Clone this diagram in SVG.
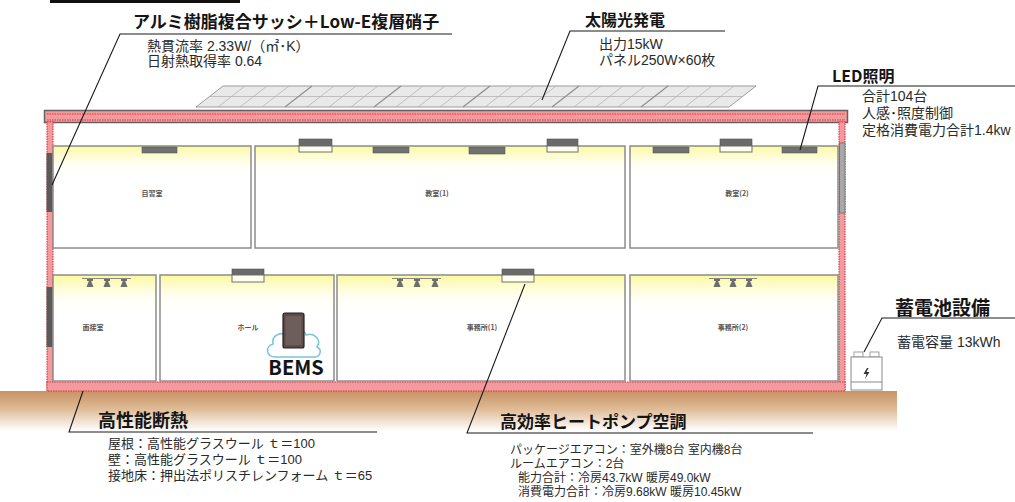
<svg xmlns="http://www.w3.org/2000/svg" width="1015" height="502" viewBox="0 0 1015 502">
  <style>
    text { font-family: "Noto Sans CJK JP", "Noto Sans", sans-serif; }
    .ttl { font-weight: bold; fill: #151515; }
    .body { font-family: "Liberation Sans", "Noto Sans CJK JP", sans-serif; font-size: 14px; fill: #2a2a2a; }
    .sm { font-size: 12px; }
    .md { font-size: 13px; }
    .rm { font-size: 7px; font-weight: bold; fill: #555; }
    .room { fill: none; stroke: #8c8c8c; stroke-width: 1.5; }
    .ins { fill: #f39a9d; stroke: #dc3440; stroke-width: 1.1; stroke-dasharray: 1.5 1; }
    .lamp { fill: #707070; stroke: #5c5c5c; stroke-width: 0.6; }
    .ac-top { fill: #6a6a6a; stroke: #555; stroke-width: 0.6; }
    .ac-bot { fill: #fffef0; stroke: #707070; stroke-width: 1; }
    .dl { fill: #6e6e6e; }
    .lead { fill: none; stroke: #1a1a1a; stroke-width: 1.1; }
    .pv { fill: #e9e9e9; stroke: #9c9c9c; stroke-width: 1; }
    .pvl { stroke: #b4b4b4; stroke-width: 0.8; fill: none; }
  </style>
  <defs>
    <linearGradient id="glow" x1="0" y1="0" x2="0" y2="1">
      <stop offset="0" stop-color="#fbf99a"/>
      <stop offset="1" stop-color="#ffffff" stop-opacity="0"/>
    </linearGradient>
    <linearGradient id="soil" x1="0" y1="0" x2="0" y2="1">
      <stop offset="0" stop-color="#c79263"/>
      <stop offset="0.45" stop-color="#dfbb96"/>
      <stop offset="1" stop-color="#ffffff"/>
    </linearGradient>
    <g id="downlight">
      <rect x="-3" y="0" width="6" height="2" class="dl"/>
      <path d="M-1.2 2 L1.2 2 L3.5 8 L-3.5 8 Z" class="dl"/>
    </g>
  </defs>

  <rect width="1015" height="502" fill="#ffffff"/>

  <!-- heading rule -->
  <rect x="50" y="0" width="190" height="3" fill="#111"/>

  <!-- ground -->
  <rect id="ground" x="0" y="391" width="897" height="40" fill="url(#soil)"/>

  <!-- solar array on the roof -->
  <g id="solar-panels">
    <path class="pv" d="M196 107 L223 86 L756 86 L729 107 Z"/>
    <g class="pvl">
      <line x1="209.5" y1="96.5" x2="742.5" y2="96.5"/>
      <line x1="218" y1="107" x2="245" y2="86"/>
      <line x1="240" y1="107" x2="267" y2="86"/>
      <line x1="262" y1="107" x2="289" y2="86"/>
      <line x1="307" y1="107" x2="334" y2="86"/>
      <line x1="329" y1="107" x2="356" y2="86"/>
      <line x1="351" y1="107" x2="378" y2="86"/>
      <line x1="396" y1="107" x2="423" y2="86"/>
      <line x1="418" y1="107" x2="445" y2="86"/>
      <line x1="440" y1="107" x2="467" y2="86"/>
      <line x1="485" y1="107" x2="512" y2="86"/>
      <line x1="507" y1="107" x2="534" y2="86"/>
      <line x1="529" y1="107" x2="556" y2="86"/>
      <line x1="574" y1="107" x2="601" y2="86"/>
      <line x1="596" y1="107" x2="623" y2="86"/>
      <line x1="618" y1="107" x2="645" y2="86"/>
      <line x1="663" y1="107" x2="690" y2="86"/>
      <line x1="685" y1="107" x2="712" y2="86"/>
      <line x1="707" y1="107" x2="734" y2="86"/>
    </g>
    <g fill="none" stroke="#8e8e8e" stroke-width="1.2">
      <line x1="285" y1="107" x2="312" y2="86"/>
      <line x1="374" y1="107" x2="401" y2="86"/>
      <line x1="463" y1="107" x2="490" y2="86"/>
      <line x1="552" y1="107" x2="579" y2="86"/>
      <line x1="641" y1="107" x2="668" y2="86"/>
    </g>
  </g>

  <!-- building shell with insulation -->
  <g id="building">
    <rect x="44.5" y="110.5" width="803" height="12" fill="#f39a9d" stroke="#626262" stroke-width="1.5"/>
    <line x1="47" y1="114" x2="845" y2="114" stroke="#dc3440" stroke-width="1.1" stroke-dasharray="1.5 1"/>
    <line x1="47" y1="120" x2="845" y2="120" stroke="#dc3440" stroke-width="1.1" stroke-dasharray="1.5 1"/>
    <rect class="ins" x="47" y="122" width="6" height="268"/>
    <rect class="ins" x="839" y="122" width="6" height="268"/>
    <rect class="ins" x="47" y="382" width="798" height="9"/>
    <!-- windows -->
    <rect x="46.5" y="153" width="6" height="59" fill="#5a5a5a"/>
    <rect x="46.5" y="287" width="6" height="60" fill="#5a5a5a"/>
    <rect x="839.5" y="143" width="5.5" height="70" fill="#a8a8a8" stroke="#6a6a6a" stroke-width="0.8"/>
  </g>

  <!-- upper floor -->
  <g id="room-jishushitsu">
    <rect x="53" y="146" width="198" height="102" fill="#fff"/>
    <rect x="53" y="146" width="198" height="30" fill="url(#glow)"/>
    <rect class="room" x="53" y="146" width="198" height="102"/>
    <rect class="lamp" x="142" y="147" width="35" height="6"/>
    <text class="rm" x="152" y="196" text-anchor="middle">自習室</text>
  </g>
  <g id="room-kyoshitsu1">
    <rect x="255" y="146" width="370" height="102" fill="#fff"/>
    <rect x="255" y="146" width="370" height="30" fill="url(#glow)"/>
    <rect class="room" x="255" y="146" width="370" height="102"/>
    <rect class="ac-top" x="299" y="139" width="33" height="7"/>
    <rect class="ac-bot" x="299" y="146" width="33" height="6"/>
    <rect class="lamp" x="373" y="147" width="36" height="6"/>
    <rect class="lamp" x="469" y="147" width="36" height="7"/>
    <rect class="ac-top" x="547" y="139" width="31" height="7"/>
    <rect class="ac-bot" x="547" y="146" width="31" height="6"/>
    <text class="rm" x="437" y="196" text-anchor="middle">教室(1)</text>
  </g>
  <g id="room-kyoshitsu2">
    <rect x="630" y="146" width="208" height="102" fill="#fff"/>
    <rect x="630" y="146" width="208" height="30" fill="url(#glow)"/>
    <rect class="room" x="630" y="146" width="208" height="102"/>
    <rect class="lamp" x="653" y="147" width="36" height="6"/>
    <rect class="ac-top" x="720" y="139" width="32" height="7"/>
    <rect class="ac-bot" x="720" y="146" width="32" height="6"/>
    <rect class="lamp" x="782" y="147" width="35" height="6"/>
    <text class="rm" x="737" y="196" text-anchor="middle">教室(2)</text>
  </g>

  <!-- lower floor -->
  <g id="room-mensetsushitsu">
    <rect x="53" y="275" width="103" height="106" fill="#fff"/>
    <rect x="53" y="275" width="103" height="36" fill="url(#glow)"/>
    <rect class="room" x="53" y="275" width="103" height="106"/>
    <line x1="82" y1="278.5" x2="131" y2="278.5" stroke="#888" stroke-width="1"/>
    <use href="#downlight" x="90" y="279"/>
    <use href="#downlight" x="107" y="279"/>
    <use href="#downlight" x="124" y="279"/>
    <text class="rm" x="93" y="330" text-anchor="middle">面接室</text>
  </g>
  <g id="room-hall">
    <rect x="160" y="275" width="174" height="106" fill="#fff"/>
    <rect x="160" y="275" width="174" height="36" fill="url(#glow)"/>
    <rect class="room" x="160" y="275" width="174" height="106"/>
    <rect class="ac-top" x="232" y="269" width="32" height="6"/>
    <rect class="ac-bot" x="232" y="275" width="32" height="7"/>
    <text class="rm" x="248" y="330" text-anchor="middle">ホール</text>
  </g>
  <g id="room-jimusho1">
    <rect x="337" y="275" width="288" height="106" fill="#fff"/>
    <rect x="337" y="275" width="288" height="36" fill="url(#glow)"/>
    <rect class="room" x="337" y="275" width="288" height="106"/>
    <line x1="392" y1="278.5" x2="441" y2="278.5" stroke="#888" stroke-width="1"/>
    <use href="#downlight" x="400" y="279"/>
    <use href="#downlight" x="417" y="279"/>
    <use href="#downlight" x="435" y="279"/>
    <rect class="ac-top" x="502" y="269" width="32" height="6"/>
    <rect class="ac-bot" x="502" y="275" width="32" height="7"/>
    <text class="rm" x="482" y="330" text-anchor="middle">事務所(1)</text>
  </g>
  <g id="room-jimusho2">
    <rect x="630" y="275" width="208" height="106" fill="#fff"/>
    <rect x="630" y="275" width="208" height="36" fill="url(#glow)"/>
    <rect class="room" x="630" y="275" width="208" height="106"/>
    <line x1="709" y1="278.5" x2="757" y2="278.5" stroke="#888" stroke-width="1"/>
    <use href="#downlight" x="717" y="279"/>
    <use href="#downlight" x="733" y="279"/>
    <use href="#downlight" x="749" y="279"/>
    <text class="rm" x="733" y="330" text-anchor="middle">事務所(2)</text>
  </g>

  <!-- BEMS: cloud and tablet -->
  <g id="bems">
    <path d="M275 357 C266 357 265 346 273 344 C271 335 282 331 287 336 C289 327 303 326 306 335 C314 332 322 340 317 347 C323 350 320 358 313 357 Z" fill="#fff" stroke="#7cc5dc" stroke-width="1.6"/>
    <rect x="283" y="313" width="21" height="35" rx="2" fill="#5b4b49" stroke="#222" stroke-width="1.2"/>
    <rect x="285.5" y="316" width="16" height="29" fill="#6e5e5b"/>
    <text x="296" y="375" text-anchor="middle" font-family="Noto Sans, sans-serif" font-weight="bold" font-size="20" fill="#151515">BEMS</text>
  </g>

  <!-- storage battery -->
  <g id="battery">
    <rect x="854" y="352" width="9" height="5" fill="#fff" stroke="#888" stroke-width="0.8"/>
    <rect x="870" y="352" width="9" height="5" fill="#fff" stroke="#888" stroke-width="0.8"/>
    <rect x="851" y="357" width="31" height="33" fill="#fff" stroke="#888" stroke-width="1"/>
    <line x1="851" y1="382" x2="882" y2="382" stroke="#888" stroke-width="1"/>
    <path d="M867 368 L863.5 374 L866.5 374 L865 379 L869.5 372 L866.5 372 L868.5 368 Z" fill="#333"/>
  </g>

  <!-- callout leaders -->
  <g id="connectors" class="lead">
    <polyline points="52,185 120,34 452,34"/>
    <polyline points="542,100 570,31 725,31"/>
    <polyline points="800,150 818,86 1015,86"/>
    <polyline points="864,352 882,318 1015,318"/>
    <polyline points="83,391 69,432 377,432"/>
    <polyline points="525,284 467,433 813,433"/>
  </g>

  <!-- callout texts -->
  <g id="label-sash">
    <text class="ttl" x="133" y="28" font-size="17">アルミ樹脂複合サッシ＋Low-E複層硝子</text>
    <text class="body" x="147" y="51">熱貫流率 2.33W/（㎡･K）</text>
    <text class="body" x="147" y="66">日射熱取得率 0.64</text>
  </g>
  <g id="label-pv">
    <text class="ttl" x="585" y="26" font-size="16">太陽光発電</text>
    <text class="body" x="599" y="49">出力15kW</text>
    <text class="body" x="599" y="65">パネル250W×60枚</text>
  </g>
  <g id="label-led">
    <text class="ttl" x="832" y="82" font-size="16">LED照明</text>
    <text class="body" x="862" y="101">合計104台</text>
    <text class="body" x="862" y="118">人感･照度制御</text>
    <text class="body" x="862" y="135">定格消費電力合計1.4kw</text>
  </g>
  <g id="label-battery">
    <text class="ttl" x="895" y="315" font-size="19">蓄電池設備</text>
    <text class="body" x="897" y="347">蓄電容量 13kWh</text>
  </g>
  <g id="label-insulation">
    <text class="ttl" x="98" y="427" font-size="18">高性能断熱</text>
    <text class="body md" x="108" y="448">屋根：高性能グラスウール ｔ＝100</text>
    <text class="body md" x="108" y="464">壁：高性能グラスウール ｔ＝100</text>
    <text class="body md" x="108" y="480">接地床：押出法ポリスチレンフォーム ｔ＝65</text>
  </g>
  <g id="label-heatpump">
    <text class="ttl" x="500" y="428" font-size="17">高効率ヒートポンプ空調</text>
    <text class="body sm" x="510" y="454">パッケージエアコン：室外機8台 室内機8台</text>
    <text class="body sm" x="510" y="468">ルームエアコン：2台</text>
    <text class="body sm" x="518" y="482">能力合計：冷房43.7kW 暖房49.0kW</text>
    <text class="body sm" x="518" y="496">消費電力合計：冷房9.68kW 暖房10.45kW</text>
  </g>
</svg>
